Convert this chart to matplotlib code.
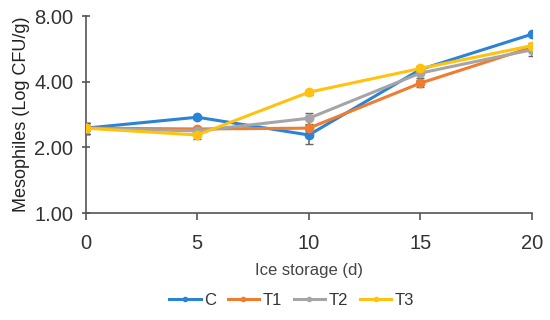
import matplotlib
matplotlib.use("Agg")
import matplotlib.pyplot as plt
from matplotlib.lines import Line2D
from matplotlib.ticker import FixedLocator, NullLocator

plt.rcParams["font.family"] = ["Liberation Sans", "DejaVu Sans"]

days = [0, 5, 10, 15, 20]
series = ["C", "T1", "T2", "T3"]
values = {
    "C":  [2.45, 2.75, 2.28, 4.55, 6.60],
    "T1": [2.45, 2.43, 2.45, 3.94, 5.75],
    "T2": [2.45, 2.38, 2.72, 4.38, 5.60],
    "T3": [2.45, 2.28, 3.58, 4.60, 5.85],
}
errors = {
    "C":  [0.15, 0.05, 0.20, 0.10, 0.10],
    "T1": [0.15, 0.05, 0.08, 0.15, 0.10],
    "T2": [0.15, 0.05, 0.15, 0.20, 0.35],
    "T3": [0.15, 0.10, 0.10, 0.10, 0.15],
}
colors = {"C": "#2B83D6", "T1": "#F07C30", "T2": "#A5A5A5", "T3": "#FFC20E"}
yticks = [1, 2, 4, 8]
ytick_labels = ["1.00", "2.00", "4.00", "8.00"]

fig = plt.figure(figsize=(5.5, 3.2), dpi=100)
ax = fig.add_axes([0.156, 0.334, 0.811, 0.616])

for s in series:
    ax.errorbar(days, values[s], yerr=errors[s], color=colors[s], lw=2.2,
                marker="o", ms=6, capsize=3, elinewidth=1.2,
                ecolor="#666666", zorder=3)

ax.set_yscale("log", base=2)
ax.set_ylim(1, 8)
ax.yaxis.set_major_locator(FixedLocator(yticks))
ax.yaxis.set_minor_locator(NullLocator())
ax.set_yticklabels(ytick_labels)
ax.set_xlim(0, 20)
ax.set_xticks(days)

for sp in ["top", "right"]:
    ax.spines[sp].set_visible(False)
for sp in ["left", "bottom"]:
    ax.spines[sp].set_color("#555555")
    ax.spines[sp].set_linewidth(1.2)
ax.tick_params(axis="both", colors="#555555", labelcolor="#333333",
               labelsize=14.5, length=5, width=1.2)
ax.tick_params(axis="y", pad=6, direction="inout", length=6)
ax.tick_params(axis="x", pad=10)

ax.set_ylabel("Mesophiles (Log CFU/g)", fontsize=13, color="#222222", labelpad=3)
ax.set_xlabel("Ice storage (d)", fontsize=12, color="#444444", labelpad=7)

handles = [Line2D([], [], color=colors[s], lw=2.2, marker="o", ms=3) for s in series]
fig.legend(handles, series, loc="center", bbox_to_anchor=(0.53, 0.06),
           ncol=4, frameon=False, fontsize=12, handlelength=1.9,
           handletextpad=0.2, columnspacing=0.7, labelcolor="#333333")

fig.savefig("out.png", dpi=100)
